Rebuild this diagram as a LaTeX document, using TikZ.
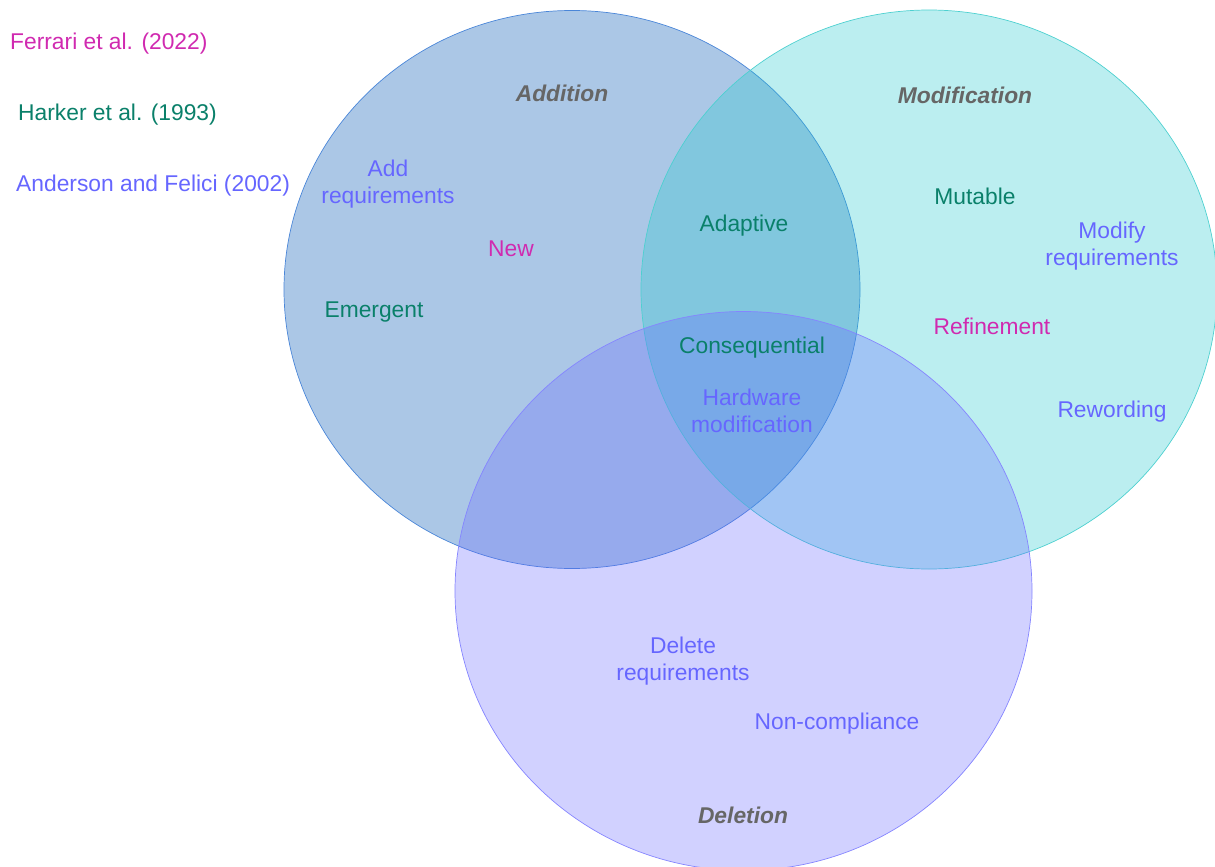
\documentclass[tikz,border=0pt]{standalone}
\usepackage{fontspec}
\setmainfont{Liberation Sans}

\definecolor{addblue}{RGB}{64,128,199}
\definecolor{addline}{RGB}{74,134,216}
\definecolor{modcyan}{RGB}{30,200,205}
\definecolor{modline}{RGB}{77,208,208}
\definecolor{delviolet}{RGB}{102,102,255}
\definecolor{ferrari}{RGB}{208,42,176}
\definecolor{harker}{RGB}{10,128,106}
\definecolor{anderson}{RGB}{102,102,255}
\definecolor{setgray}{RGB}{102,102,102}

\tikzset{
  setcircle/.style={draw=#1, line width=0.7pt},
  vlabel/.style={font=\fontsize{22.8}{27.3}\selectfont, align=center, inner sep=0pt},
  setname/.style={vlabel, text=setgray, font=\fontsize{22.8}{27.3}\selectfont\bfseries\itshape},
}

\begin{document}
\begin{tikzpicture}[x=1pt,y=-1pt]
            \useasboundingbox (0,0) rectangle (1215,867);
            % the three sets
            \draw[setcircle=addline, fill=addblue, fill opacity=0.44] (572,289.5) ellipse (288pt and 279pt);
            \draw[setcircle=modline, fill=modcyan, fill opacity=0.3] (929,289.5) ellipse (288pt and 279.5pt);
            \draw[setcircle=delviolet!80, fill=delviolet, fill opacity=0.3] (743.5,591) ellipse (288.5pt and 279.5pt);
            % legend
            \node[vlabel, text=ferrari, anchor=west] (ferrari) at (10,44) {Ferrari et al. (2022)};
            \node[vlabel, text=harker, anchor=west] (harker) at (18,114.5) {Harker et al. (1993)};
            \node[vlabel, text=anderson, anchor=west] (anderson) at (16,185.5) {Anderson and Felici (2002)};
            % set names
            \node[setname] (addition) at (562,93) {Addition};
            \node[setname] (modification) at (965,95) {Modification};
            \node[setname] (deletion) at (743,815) {Deletion};
            % addition only
            \node[vlabel, text=anderson] (addreq) at (388,184) {Add\\requirements};
            \node[vlabel, text=ferrari] (new) at (511,248.5) {New};
            \node[vlabel, text=harker] (emergent) at (374,312) {Emergent};
            % addition and modification
            \node[vlabel, text=harker] (adaptive) at (744,225.5) {Adaptive};
            % modification only
            \node[vlabel, text=harker] (mutable) at (975,196.5) {Mutable};
            \node[vlabel, text=anderson] (modreq) at (1112,246) {Modify\\requirements};
            \node[vlabel, text=ferrari] (refinement) at (992,326.5) {Refinement};
            \node[vlabel, text=anderson] (rewording) at (1112,411.5) {Rewording};
            % all three
            \node[vlabel, text=harker] (consequential) at (752,347.5) {Consequential};
            \node[vlabel, text=anderson] (hardware) at (752,411) {Hardware\\modification};
            % deletion only
            \node[vlabel, text=anderson] (delreq) at (683,661) {Delete\\requirements};
            \node[vlabel, text=anderson] (noncomp) at (837,723.5) {Non-compliance};
        \end{tikzpicture}
\end{document}
